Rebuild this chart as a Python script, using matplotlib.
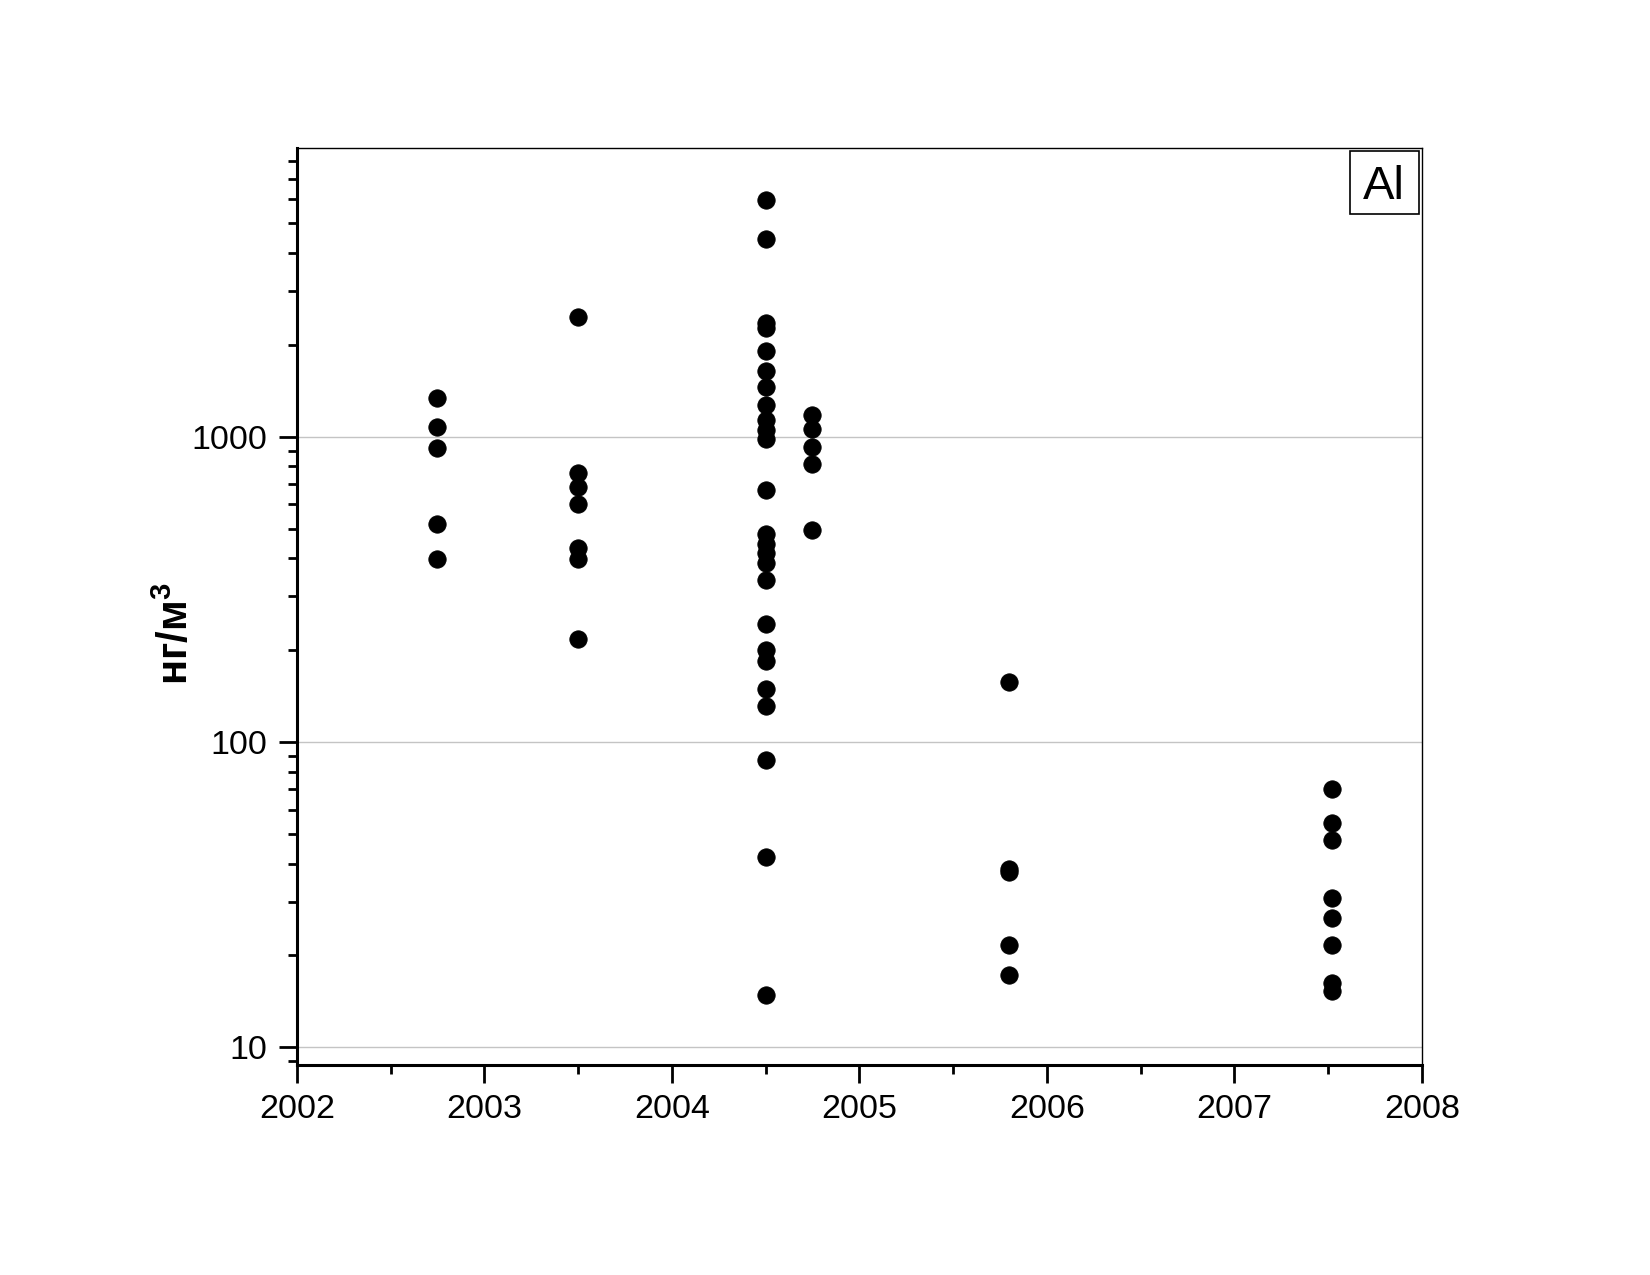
import matplotlib
matplotlib.use("Agg")
import matplotlib.pyplot as plt
import numpy as np
from matplotlib.patches import Rectangle
from matplotlib.ticker import LogLocator, FixedLocator, NullFormatter

plt.rcParams['font.family'] = ['Liberation Sans', 'DejaVu Sans']
plt.rcParams['mathtext.default'] = 'regular'

# sampling dates (decimal years) and Al concentrations, ng/m3
dates = [2002.75, 2003.5, 2004.5, 2004.75, 2005.8, 2007.52]
al_2002 = [1336, 1076, 916, 518, 397]
al_2003 = [2471, 762, 683, 602, 433, 397, 217]
al_2004a = [5945, 4437, 2361, 2265, 1908, 1644, 1451, 1270, 1134, 1052, 983,
            669, 480, 445, 415, 385, 340, 244, 200, 184, 149, 131, 87.5,
            41.9, 14.8]
al_2004b = [1178, 1057, 928, 814, 495]
al_2005 = [157, 38.5, 37.5, 21.7, 17.3]
al_2007 = [70.2, 54.3, 47.6, 30.9, 26.5, 21.7, 16.3, 15.3]
groups = [al_2002, al_2003, al_2004a, al_2004b, al_2005, al_2007]

year_ticks = [2002, 2003, 2004, 2005, 2006, 2007, 2008]
y_ticks = [10, 100, 1000]
y_labels = ['10', '100', '1000']

fig = plt.figure(figsize=(16.5, 12.75), dpi=100)
ax = fig.add_axes([0.1799, 0.1647, 0.6818, 0.7189])

for d, vals in zip(dates, groups):
    ax.plot([d] * len(vals), vals, 'o', color='black', ms=12.5,
            mec='black', mew=0.6, zorder=3)

ax.set_yscale('log')
ax.set_xlim(2002, 2008)
ax.set_ylim(8.75, 8800)

ax.set_xticks(year_ticks)
ax.set_xticklabels([str(y) for y in year_ticks])
ax.xaxis.set_minor_locator(FixedLocator(np.arange(2002.5, 2008, 1.0)))
ax.set_yticks(y_ticks)
ax.set_yticklabels(y_labels)
ax.yaxis.set_minor_locator(LogLocator(base=10, subs=np.arange(2, 10), numticks=20))
ax.yaxis.set_minor_formatter(NullFormatter())

ax.tick_params(axis='both', which='major', direction='out', length=13,
               width=2, labelsize=24.5, pad=8)
ax.tick_params(axis='both', which='minor', direction='out', length=6.5,
               width=2)
ax.tick_params(top=False, right=False, which='both')

ax.grid(True, axis='y', which='major', color='#c4c4c4', lw=1.0, zorder=0)

for side in ['left', 'bottom']:
    ax.spines[side].set_linewidth(2.2)
for side in ['top', 'right']:
    ax.spines[side].set_linewidth(1.0)

ax.set_ylabel('нг/м$^3$', fontsize=30, fontweight='bold')
ax.yaxis.set_label_coords(-0.089, 0.47)

# element label box in the corner
ax.add_patch(Rectangle((0.9363, 0.9289), 0.0609, 0.0688, transform=ax.transAxes,
                       fill=False, ec='black', lw=1.2, zorder=4))
ax.text(0.9667, 0.958, 'Al', transform=ax.transAxes, ha='center',
        va='center', fontsize=34, zorder=5)

fig.savefig('out.png', dpi=100)
